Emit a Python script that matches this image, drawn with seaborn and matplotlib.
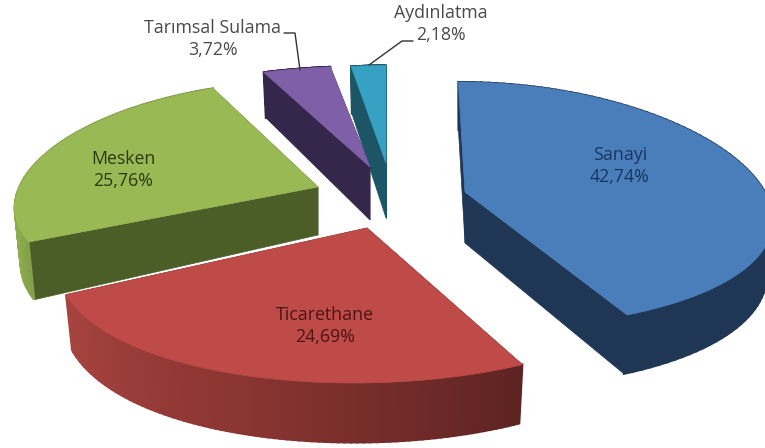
import numpy as np
import seaborn as sns
import matplotlib.pyplot as plt

# veriler
names = ['Sanayi', 'Ticarethane', 'Mesken', 'Tarımsal Sulama', 'Aydınlatma']
shares = [42.74, 24.69, 25.76, 3.72, 2.18]

top_colors = ['#4A7EBB', '#BE4B48', '#98B954', '#7F5FA8', '#37A1C3']
side_colors = ['#1F3654', '#4A1B18', '#4B5E28', '#35264C', '#1C5565']
rim_colors = [['#1F3654', '#1F3654'],
              ['#A8443F', '#8A3532', '#5E2422'],
              ['#8FAD50', '#7F9C45', '#6F8A3C'],
              ['#35264C', '#35264C'],
              ['#1C5565', '#1C5565']]
text_colors = ['#17365D', '#4A1512', '#2A3A10', '#4A4A4A', '#4A4A4A']

# yerlesim: tepe noktasi, yaricaplar, perspektif
apex_x = [465, 367, 318, 370, 386]
apex_y = [192, 228, 187, 167, 163]
rad_x = [300, 304, 300, 345, 303]
rad_y = [122, 138, 118, 112, 108]
skew = [-8, 0, -16, 0, 0]
tilt = [0, -6, -3, 0, 0]
depth = [53, 53, 55, 50, 52]
apex_depth = [51, 53, 48, 53, 55]
label_x = [620, 325, 123, 213, 441]
label_y = [166, 326, 170, 39, 24]
PX, PY = 0.2, 0.109
SHRINK = 0.98

sns.set_theme(style='white')
plt.rcParams['font.family'] = ['Open Sans', 'DejaVu Sans']

fig = plt.figure(figsize=(7.65, 4.48), dpi=100)
ax = fig.add_axes([0, 0, 1, 1])
ax.set_xlim(0, 765)
ax.set_ylim(448, 0)
ax.axis('off')


def project(i, theta, bottom=False):
    u, v = np.sin(theta), np.cos(theta)
    dx = (rad_x[i] * u + skew[i] * v) / (1 + PX * v)
    sy = 1 / (1 + PY * v)
    y = apex_y[i] - rad_y[i] * v * sy + tilt[i] * u
    if bottom:
        return apex_x[i] + dx * SHRINK, y + depth[i] * sy
    return apex_x[i] + dx, y


fractions = np.array(shares) / np.sum(shares)
edges = np.concatenate([[0], np.cumsum(fractions)]) * 2 * np.pi

# arkadan one dogru cizim sirasi
for i in [4, 3, 2, 0, 1]:
    thetas = np.linspace(edges[i], edges[i + 1], 90)
    tx, ty = project(i, thetas)
    bx, by = project(i, thetas, bottom=True)
    ax0, ay0 = apex_x[i], apex_y[i]
    bottom_y = ay0 + apex_depth[i]

    # kesit yuzleri
    for k in [0, -1]:
        ax.fill([ax0, tx[k], bx[k], ax0], [ay0, ty[k], by[k], bottom_y],
                color=side_colors[i], lw=0.5)

    # dis kenar, yatay renk gecisi
    shades = sns.blend_palette(rim_colors[i], len(thetas) - 1)
    order = np.argsort(np.argsort(tx[:-1]))
    for j in range(len(thetas) - 1):
        ax.fill([tx[j], tx[j + 1], bx[j + 1], bx[j]],
                [ty[j], ty[j + 1], by[j + 1], by[j]],
                color=shades[order[j]], lw=1.5)

    # ust yuz
    ax.fill(np.r_[ax0, tx], np.r_[ay0, ty], color=top_colors[i], lw=0.5)

# etiketler
for i, name in enumerate(names):
    value = f'{shares[i]:.2f}'.replace('.', ',')
    ax.text(label_x[i], label_y[i], f'{name}\n{value}%', ha='center', va='center',
            fontsize=12.8, color=text_colors[i], linespacing=1.25)

# kilavuz cizgileri
ax.plot([284, 295, 300], [33, 33, 70], color='#333333', lw=1)
ax.plot([413, 402, 369], [41, 41, 65], color='#333333', lw=1)

fig.savefig('out.png', dpi=100)
